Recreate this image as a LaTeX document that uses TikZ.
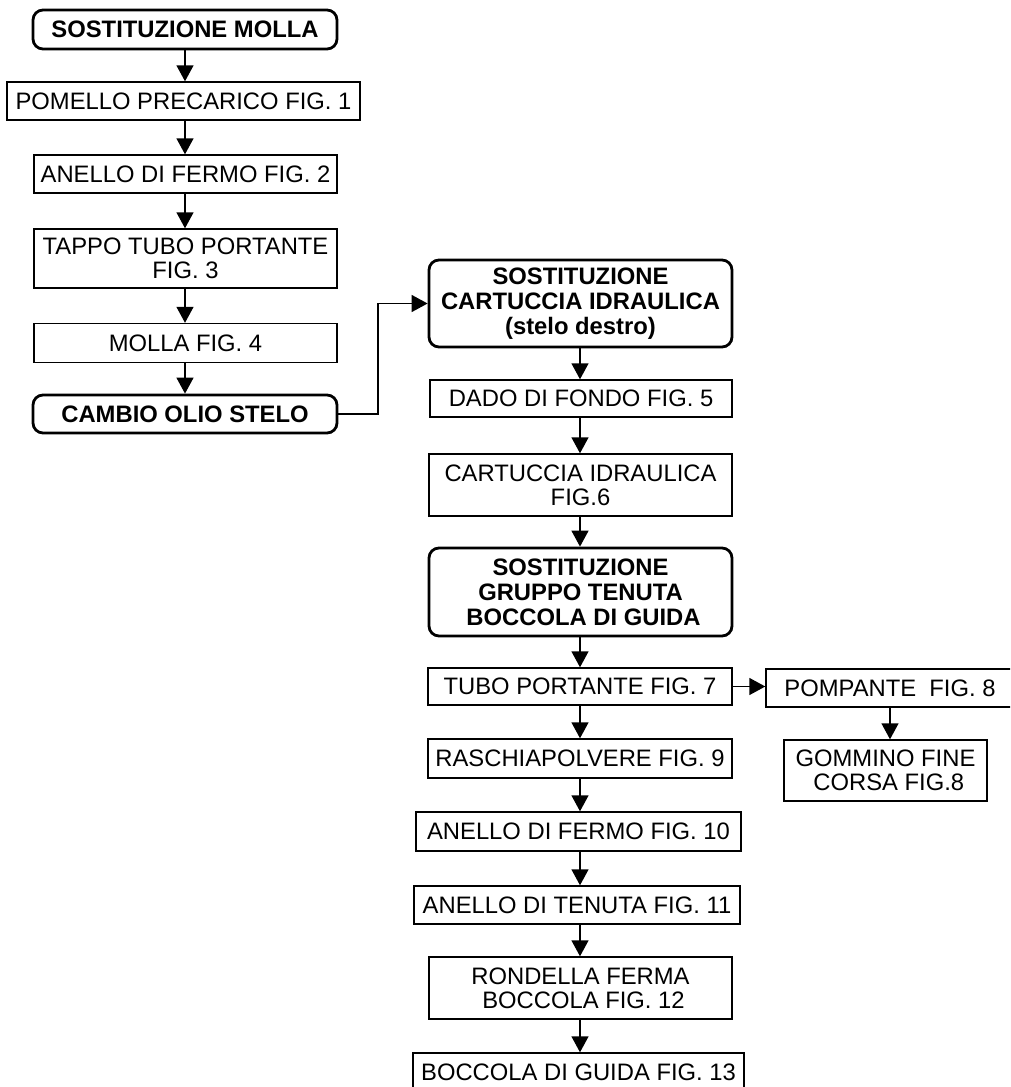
\documentclass[tikz,border=0pt]{standalone}
\usepackage{fontspec}
\setmainfont{Liberation Sans}
\usetikzlibrary{arrows.meta}
\tikzset{
  plainbox/.style={draw, line width=1.4pt, inner sep=0pt, align=center,
    font=\fontsize{23.8}{24.3}\selectfont},
  roundbox/.style={draw, line width=2.8pt, rounded corners=10pt, inner sep=0pt, align=center,
    font=\fontsize{23.8}{24.8}\selectfont\bfseries},
  arr/.style={line width=1.4pt, -{Triangle[length=16pt,width=17pt]}}
}
\begin{document}
\begin{tikzpicture}[x=1pt,y=-1pt]
\useasboundingbox (0,0) rectangle (1010,1087);
\clip (0,0) rectangle (1010,1087);
% left column
\node[roundbox, minimum width=304pt, minimum height=39pt] (b1) at (185,29.5) {SOSTITUZIONE MOLLA};
\node[plainbox, minimum width=353pt, minimum height=38pt] (b2) at (183.5,101) {POMELLO PRECARICO FIG. 1};
\node[plainbox, minimum width=303pt, minimum height=38pt] (b3) at (185.5,174) {ANELLO DI FERMO FIG. 2};
\node[plainbox, minimum width=303pt, minimum height=59pt] (b4) at (185.5,258.5) {TAPPO TUBO PORTANTE\\FIG. 3};
\node[plainbox, minimum width=303pt, minimum height=39pt] (b5) at (185.5,343) {MOLLA FIG. 4};
\node[roundbox, minimum width=304pt, minimum height=38pt] (b6) at (185,414) {CAMBIO OLIO STELO};
% right column
\node[roundbox, minimum width=303pt, minimum height=87pt] (b7) at (580.5,303.5) {SOSTITUZIONE\\CARTUCCIA IDRAULICA\\(stelo destro)};
\node[plainbox, minimum width=302pt, minimum height=37pt] (b8) at (581,398.5) {DADO DI FONDO FIG. 5};
\node[plainbox, minimum width=303pt, minimum height=62pt] (b9) at (580.5,485) {CARTUCCIA IDRAULICA\\FIG.6};
\node[roundbox, minimum width=303pt, minimum height=88pt] (b10) at (580.5,592) {SOSTITUZIONE\\GRUPPO TENUTA\\\hspace*{6pt}BOCCOLA DI GUIDA};
\node[plainbox, minimum width=304pt, minimum height=37pt] (b11) at (580,686.5) {TUBO PORTANTE FIG. 7};
\node[plainbox, minimum width=248pt, minimum height=38pt] (b12) at (890,688) {POMPANTE\ \ FIG. 8};
\node[plainbox, minimum width=203pt, minimum height=61pt] (b13) at (885.5,770.5) {GOMMINO FINE\\\hspace*{6.6pt}CORSA FIG.8};
\node[plainbox, minimum width=304pt, minimum height=39pt] (b14) at (580,758.5) {RASCHIAPOLVERE FIG. 9};
\node[plainbox, minimum width=325pt, minimum height=39pt] (b15) at (578.5,831.5) {ANELLO DI FERMO FIG. 10};
\node[plainbox, minimum width=326pt, minimum height=38pt] (b16) at (577,905) {ANELLO DI TENUTA FIG. 11};
\node[plainbox, minimum width=303pt, minimum height=62pt] (b17) at (580.5,988) {RONDELLA FERMA\\\hspace*{6pt}BOCCOLA FIG. 12};
\node[plainbox, minimum width=331pt, minimum height=38pt] (b18) at (578.5,1072) {BOCCOLA DI GUIDA FIG. 13};
% connectors left
\coordinate (lx) at (185,0);
\foreach \a/\b in {b1/b2,b2/b3,b3/b4,b4/b5,b5/b6}
  \draw[arr] (lx |- \a.south) -- (lx |- \b.north);
% connector to right column
\coordinate (jog) at (378,0);
\draw[arr] (b6.east) -| (jog |- b7.west) -- (b7.west);
% connectors right
\coordinate (rx) at (580,0);
\foreach \a/\b in {b7/b8,b8/b9,b9/b10,b10/b11,b11/b14,b14/b15,b15/b16,b16/b17,b17/b18}
  \draw[arr] (rx |- \a.south) -- (rx |- \b.north);
\draw[arr] (b11.east) -- (b11.east -| b12.west);
\coordinate (px) at (890,0);
\draw[arr] (px |- b12.south) -- (px |- b13.north);
\end{tikzpicture}
\end{document}
